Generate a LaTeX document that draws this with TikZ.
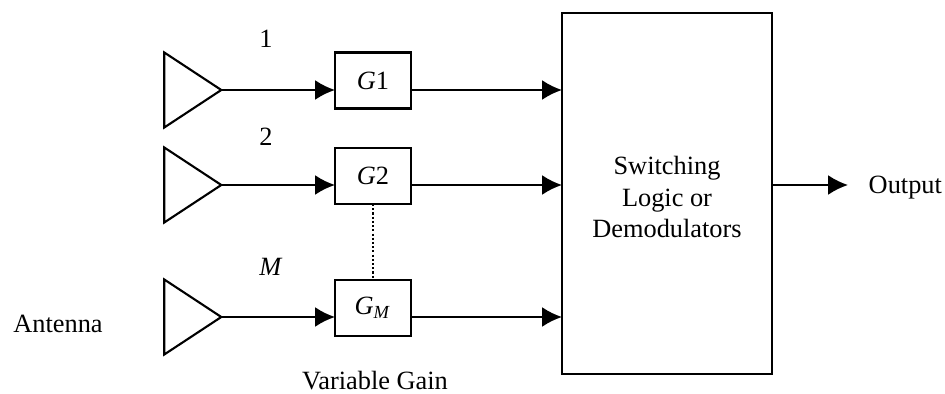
\documentclass[tikz,border=0pt]{standalone}
\usepackage{fontspec}
\setmainfont{Liberation Serif}
\usetikzlibrary{arrows.meta,shapes.geometric}
\tikzset{
  amp/.style={draw,line width=.6pt,isosceles triangle,isosceles triangle stretches,shape border rotate=0,minimum width=.75cm,minimum height=.57cm,inner sep=0pt,outer sep=0pt},
  gainbox/.style={draw,line width=.6pt,minimum width=.76cm,minimum height=.56cm,inner sep=0pt,outer sep=0pt},
  wire/.style={line width=.6pt,-{Latex[length=.2cm,width=.2cm]}},
  lbl/.style={font=\fontsize{7.5}{9}\selectfont,inner sep=0pt}
}
\begin{document}
\begin{tikzpicture}
     \useasboundingbox (0,0) rectangle (9.45,3.93);
     \node (amp1) at (1.845,3.03) [amp] {};
     \node (amp2) at (1.845,2.08) [amp] {};
     \node (ampM) at (1.845,.76) [amp] {};
     \node (g1) at (3.73,3.125) [gainbox,lbl] {\textit{G}1};
     \node (g2) at (3.73,2.17) [gainbox,lbl] {\textit{G}2};
     \node (gM) at (3.73,.85) [gainbox,lbl] {\textit{G}\textsubscript{\textit{M}}};
     \node (logic) at (6.67,1.995) [draw,line width=.6pt,minimum width=2.1cm,minimum height=3.61cm,inner sep=0pt,outer sep=0pt] {};
     \node (logictext) at (6.67,1.96) [lbl,align=center] {Switching\\Logic or\\Demodulators};
     \node (output) at (8.48,2.08) [lbl,anchor=west,inner xsep=.2cm,text height=.22cm] {Output};
     % row labels
     \node (n1) at (2.66,3.54) [lbl] {1};
     \node (n2) at (2.66,2.56) [lbl] {2};
     \node (nM) at (2.71,1.26) [lbl] {\textit{M}};
     \node (antenna) at (.58,.69) [lbl] {Antenna};
     \node (vargain) at (3.75,.12) [lbl] {Variable Gain};
     % connectors
     \draw[wire] (amp1.east) -- (amp1.east -| g1.west);
     \draw[wire] (amp2.east) -- (amp2.east -| g2.west);
     \draw[wire] (ampM.east) -- (ampM.east -| gM.west);
     \draw[wire] (amp1.east -| g1.east) -- (amp1.east -| logic.west);
     \draw[wire] (amp2.east -| g2.east) -- (amp2.east -| logic.west);
     \draw[wire] (ampM.east -| gM.east) -- (ampM.east -| logic.west);
     \draw[wire] (output.west -| logic.east) -- (output.west);
     \draw[line width=.5pt,dash pattern=on .6pt off .6pt] (g2.south) -- (gM.north);
 \end{tikzpicture}
\end{document}
